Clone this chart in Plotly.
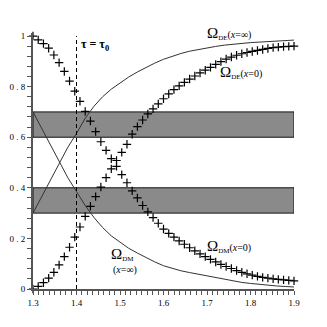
import plotly.graph_objects as go

# crosses: x = 0 case, tau sampled every 0.012
tau_pts = [round(1.3 + 0.012 * i, 3) for i in range(51)]
dm_x0 = [1.000, 0.985, 0.970, 0.952, 0.925, 0.895, 0.860, 0.822, 0.782, 0.742,
         0.702, 0.664, 0.622, 0.582, 0.548, 0.515, 0.485, 0.452, 0.420, 0.388,
         0.360, 0.330, 0.305, 0.282, 0.260, 0.237, 0.220, 0.205, 0.190, 0.177,
         0.163, 0.151, 0.139, 0.128, 0.117, 0.107, 0.097, 0.089, 0.081, 0.073,
         0.066, 0.060, 0.055, 0.050, 0.046, 0.043, 0.040, 0.038, 0.036, 0.034, 0.032]
de_x0 = [0.000, 0.010, 0.025, 0.043, 0.066, 0.095, 0.128, 0.165, 0.205, 0.245,
         0.287, 0.327, 0.365, 0.403, 0.440, 0.475, 0.508, 0.540, 0.572, 0.612,
         0.642, 0.668, 0.692, 0.712, 0.732, 0.752, 0.771, 0.788, 0.803, 0.817,
         0.830, 0.842, 0.854, 0.865, 0.876, 0.888, 0.899, 0.909, 0.917, 0.924,
         0.930, 0.935, 0.939, 0.943, 0.947, 0.951, 0.954, 0.956, 0.958, 0.959, 0.960]

# solid curves: x = infinity case
tau_line = [1.30, 1.32, 1.34, 1.36, 1.38, 1.40, 1.42, 1.44, 1.46, 1.48, 1.50,
            1.52, 1.54, 1.56, 1.58, 1.60, 1.62, 1.64, 1.66, 1.68, 1.70,
            1.72, 1.74, 1.76, 1.78, 1.80, 1.82, 1.84, 1.86, 1.88, 1.90]
de_inf = [0.300, 0.365, 0.432, 0.500, 0.560, 0.615, 0.675, 0.722, 0.760, 0.790, 0.815,
          0.838, 0.858, 0.876, 0.893, 0.908, 0.920, 0.931, 0.940, 0.947, 0.953,
          0.959, 0.964, 0.968, 0.971, 0.974, 0.976, 0.978, 0.980, 0.982, 0.984]
dm_inf = [0.700, 0.635, 0.568, 0.500, 0.440, 0.385, 0.330, 0.283, 0.243, 0.210, 0.184,
          0.161, 0.142, 0.124, 0.107, 0.092, 0.081, 0.072, 0.065, 0.058, 0.051,
          0.044, 0.037, 0.031, 0.026, 0.022, 0.018, 0.015, 0.012, 0.010, 0.008]

bands = [(0.6, 0.7), (0.3, 0.4)]
tau0 = 1.4
x_ticks = [1.3, 1.4, 1.5, 1.6, 1.7, 1.8, 1.9]
y_ticks = [0, 0.2, 0.4, 0.6, 0.8, 1]
y_tick_text = ["0", "0 . 2", "0 . 4", "0 . 6", "0 . 8", "1"]

fig = go.Figure()

for lo, hi in bands:
    fig.add_shape(type="rect", x0=1.3, x1=1.9, y0=lo, y1=hi, xref="x", yref="y",
                  fillcolor="#8a8a8a", line=dict(color="#111111", width=1), layer="below")

fig.add_shape(type="line", x0=tau0, x1=tau0, y0=0, y1=1.0, xref="x", yref="y",
              line=dict(color="black", width=1, dash="4px,3px"))

fig.add_trace(go.Scatter(x=tau_line, y=de_inf, mode="lines",
                         line=dict(color="#333333", width=1), showlegend=False))
fig.add_trace(go.Scatter(x=tau_line, y=dm_inf, mode="lines",
                         line=dict(color="#333333", width=1), showlegend=False))
for ys in (dm_x0, de_x0):
    fig.add_trace(go.Scatter(x=tau_pts, y=ys, mode="markers",
                             marker=dict(symbol="cross-thin", size=6,
                                         line=dict(color="black", width=1.2)),
                             showlegend=False, cliponaxis=False))

serif = "Liberation Serif"
def om(sub, tail):
    return ("<span style='font-size:15px'>Ω</span><sub>%s</sub>%s" % (sub, tail))

anns = [
    dict(x=1.406, y=0.965, text="<b>τ = τ<sub>0</sub></b>", size=12),
    dict(x=1.695, y=1.01, text=om("DE", "(<i>x</i>=∞)"), size=10),
    dict(x=1.725, y=0.855, text=om("DE", "(<i>x</i>=0)"), size=10),
    dict(x=1.695, y=0.168, text=om("DM", "(<i>x</i>=0)"), size=10),
    dict(x=1.475, y=0.135, text=om("DM", ""), size=10),
    dict(x=1.479, y=0.074, text="(<i>x</i>=∞)", size=10),
    dict(x=1.866, y=-0.047, text="τ", size=13),
]
for a in anns:
    fig.add_annotation(x=a["x"], y=a["y"], xref="x", yref="y", text=a["text"],
                       showarrow=False, xanchor="left", yanchor="middle", align="left",
                       font=dict(family=serif, size=a["size"], color="black"))

fig.update_layout(
    width=327, height=327,
    margin=dict(l=33, r=33, t=33, b=38),
    paper_bgcolor="white", plot_bgcolor="white",
    showlegend=False,
)
fig.update_xaxes(range=[1.3, 1.9], tickvals=x_ticks, ticktext=[str(v) for v in x_ticks],
                 automargin=False,
                 showgrid=False, zeroline=False, showline=True, linecolor="#555555", linewidth=1.5,
                 ticks="outside", ticklen=4, tickcolor="#555555",
                 minor=dict(dtick=0.0125, tick0=1.3, ticks="outside", ticklen=4, tickcolor="#555555"),
                 tickfont=dict(family=serif, size=9, color="black"))
fig.update_yaxes(range=[0, 1.012], tickvals=y_ticks, ticktext=y_tick_text,
                 automargin=False,
                 showgrid=False, zeroline=False, showline=True, linecolor="#555555", linewidth=2,
                 ticks="outside", ticklen=4, tickcolor="#555555",
                 minor=dict(dtick=0.04, tick0=0, ticks="outside", ticklen=4, tickcolor="#555555"),
                 tickfont=dict(family=serif, size=9, color="black"))

fig.write_html("out.html", config={"displayModeBar": False},
               post_script="document.body.style.margin='0px';")
